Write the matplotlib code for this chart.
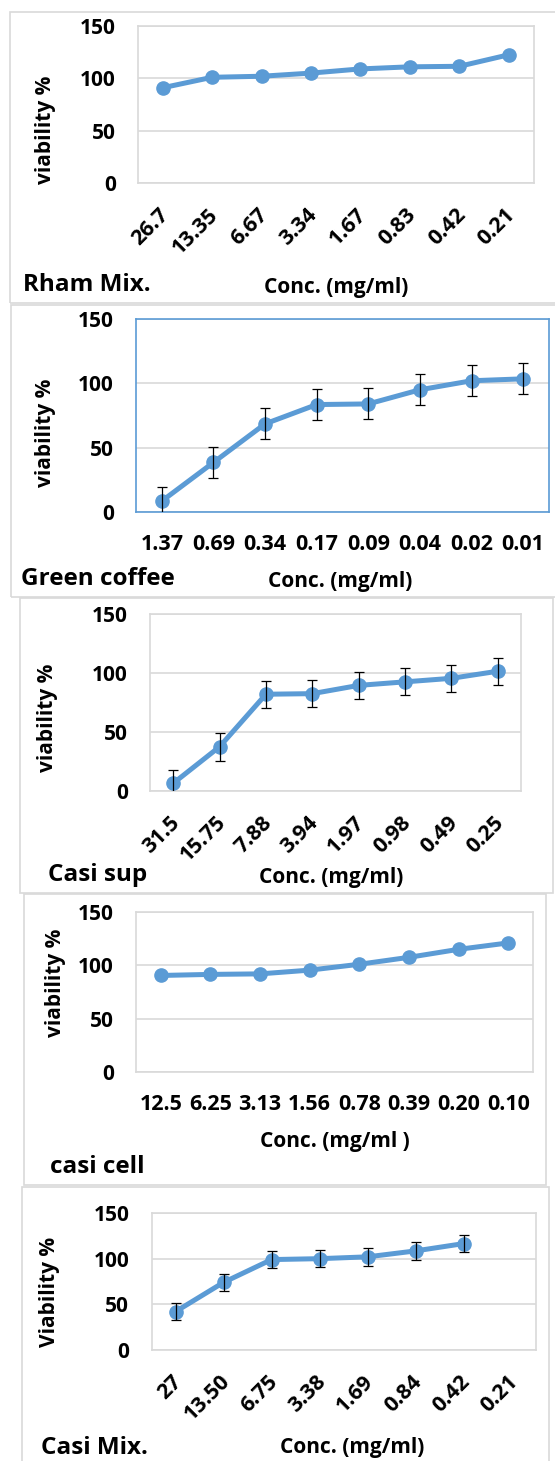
import numpy as np
import matplotlib
matplotlib.use("Agg")
import matplotlib.pyplot as plt
import matplotlib.patches as mpatches
import matplotlib.transforms as mtransforms

plt.rcParams['font.family'] = ['Open Sans', 'DejaVu Sans']
plt.rcParams['font.weight'] = 'bold'

LINE_BLUE = '#5B9BD5'
GRID_GREY = '#D9D9D9'

# viability data (% of control) for each extract, highest dose first
rham_conc = ['26.7', '13.35', '6.67', '3.34', '1.67', '0.83', '0.42', '0.21']
rham_viab = [91, 101, 102, 105, 109, 111, 111.5, 122.5]

coffee_conc = ['1.37', '0.69', '0.34', '0.17', '0.09', '0.04', '0.02', '0.01']
coffee_viab = [8.5, 38.5, 68.5, 83.5, 84, 95, 102, 103.5]
coffee_err = [11, 12, 12, 12, 12, 12, 12, 12]

casi_sup_conc = ['31.5', '15.75', '7.88', '3.94', '1.97', '0.98', '0.49', '0.25']
casi_sup_viab = [6.5, 37.5, 82, 82.5, 89.5, 92.5, 95.5, 101.5]
casi_sup_err = [11.5, 12, 11.5, 11.5, 11.5, 11.5, 11.5, 11.5]

casi_cell_conc = ['12.5', '6.25', '3.13', '1.56', '0.78', '0.39', '0.20', '0.10']
casi_cell_viab = [90.5, 91.5, 92, 95.5, 101, 107.5, 115, 121]

casi_mix_conc = ['27', '13.50', '6.75', '3.38', '1.69', '0.84', '0.42', '0.21']
casi_mix_viab = [42, 74, 99, 100, 102, 108.5, 116.5, np.nan]
casi_mix_err = [9.5, 9.5, 9.5, 9.5, 9.5, 9.5, 9.5, np.nan]

W, H = 555, 1461
fig = plt.figure(figsize=(W / 100, H / 100), dpi=100)

YTICK_FS = 15
XTICK_FS = 15.5
TITLE_FS = 17.5
XLAB_FS = 15
YLAB_FS = 15


def fig_rect(l, t, r, b):
    return [l / W, 1 - b / H, (r - l) / W, (b - t) / H]


def frame(l, t, r, b):
    fig.patches.append(mpatches.Rectangle((l / W, 1 - b / H), (r - l) / W, (b - t) / H,
                                          transform=fig.transFigure, fill=False,
                                          edgecolor=GRID_GREY, linewidth=1.2))


def panel(plot_box, conc, viab, err=None, rotate=False, border=GRID_GREY,
          ylabel='viability %', ylab_xy=None):
    ax = fig.add_axes(fig_rect(*plot_box))
    x = np.arange(len(conc))
    ax.plot(x, viab, '-o', color=LINE_BLUE, lw=3.6, ms=9.5, zorder=3)
    if err is not None:
        ax.errorbar(x, viab, yerr=err, fmt='none', ecolor='black', elinewidth=0.9,
                    capsize=3.6, capthick=0.9, zorder=4)
    ax.set_xlim(-0.5, len(conc) - 0.5)
    ax.set_ylim(0, 150)
    ax.set_yticks([0, 50, 100, 150])
    ax.yaxis.grid(True, color=GRID_GREY, lw=1.2)
    ax.set_axisbelow(True)
    for s in ax.spines.values():
        s.set_color(border)
        s.set_linewidth(1.2)
    ax.tick_params(length=0, pad=16)
    ax.tick_params(axis='y', labelsize=YTICK_FS)
    ax.tick_params(axis='x', labelsize=XTICK_FS)
    ax.set_xticks(x)
    if rotate:
        ax.set_xticklabels(conc, rotation=45, ha='right', va='center',
                           rotation_mode='anchor')
        ax.tick_params(axis='x', pad=20.5)
        shift = mtransforms.ScaledTranslation(3 / 100, 0, fig.dpi_scale_trans)
        for lab in ax.get_xticklabels():
            lab.set_transform(lab.get_transform() + shift)
    else:
        ax.set_xticklabels(conc)
    fig.text(ylab_xy[0] / W, 1 - ylab_xy[1] / H, ylabel, rotation=90,
             ha='center', va='center', fontsize=YLAB_FS)
    return ax


# Rham Mix.
frame(9.6, 12, 560, 303)
panel((138, 26, 533.5, 183), rham_conc, rham_viab, rotate=True, ylab_xy=(46, 130))
fig.text(23 / W, 1 - 285 / H, 'Rham Mix.', ha='left', va='center', fontsize=TITLE_FS)
fig.text(336 / W, 1 - 287 / H, 'Conc. (mg/ml)', ha='center', va='center', fontsize=XLAB_FS)

# Green coffee
frame(10.6, 305, 560, 597)
panel((136, 319, 549, 512), coffee_conc, coffee_viab, err=coffee_err,
      border=LINE_BLUE, ylab_xy=(46, 433))
fig.text(21 / W, 1 - 579 / H, 'Green coffee', ha='left', va='center', fontsize=TITLE_FS)
fig.text(340 / W, 1 - 582 / H, 'Conc. (mg/ml)', ha='center', va='center', fontsize=XLAB_FS)

# Casi sup
frame(19.5, 598, 553, 893)
panel((150, 614, 521, 791), casi_sup_conc, casi_sup_viab, err=casi_sup_err,
      rotate=True, ylab_xy=(48, 718))
fig.text(48 / W, 1 - 875 / H, 'Casi sup', ha='left', va='center', fontsize=TITLE_FS)
fig.text(331 / W, 1 - 877 / H, 'Conc. (mg/ml)', ha='center', va='center', fontsize=XLAB_FS)

# casi cell
frame(24, 894, 546, 1185)
panel((136, 912, 533, 1072), casi_cell_conc, casi_cell_viab, ylab_xy=(55, 983))
fig.text(335 / W, 1 - 1142 / H, 'Conc. (mg/ml )', ha='center', va='center', fontsize=XLAB_FS)
fig.text(50 / W, 1 - 1167 / H, 'casi cell', ha='left', va='center', fontsize=TITLE_FS)

# Casi Mix.
frame(22, 1187, 549, 1470)
panel((151.5, 1213, 535.6, 1350), casi_mix_conc, casi_mix_viab, err=casi_mix_err,
      rotate=True, ylabel='Viability %', ylab_xy=(50, 1292))
fig.text(41 / W, 1 - 1448 / H, 'Casi Mix.', ha='left', va='center', fontsize=TITLE_FS)
fig.text(352 / W, 1 - 1448 / H, 'Conc. (mg/ml)', ha='center', va='center', fontsize=XLAB_FS)

fig.savefig('out.png', dpi=100, facecolor='white')
